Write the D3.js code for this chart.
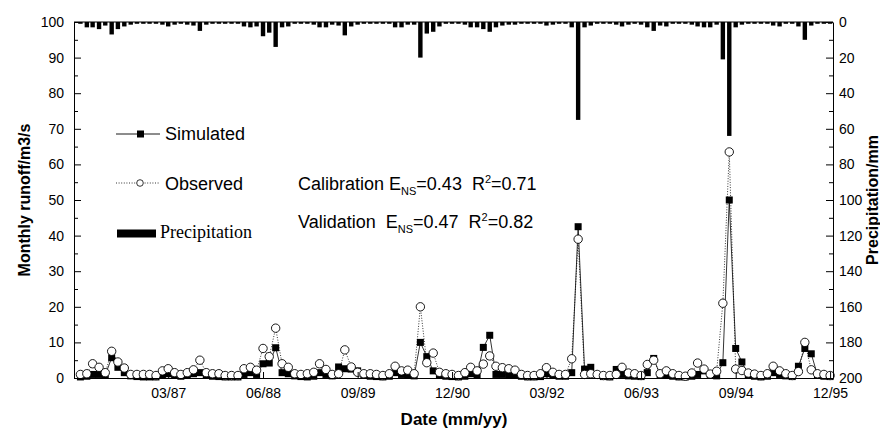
<!DOCTYPE html>
<html>
<head>
<meta charset="utf-8">
<script src="https://cdn.jsdelivr.net/npm/d3@7"></script>
<style>
  body { margin: 0; background: #fff; }
  svg { display: block; }
  text { font-family: Arial, "Liberation Sans", sans-serif; fill: #000; }
</style>
</head>
<body>
<svg id="chart" width="880" height="428"></svg>
<script>
// Monthly series, Jan 1986 – Dec 1995 (one value per month)
const observed = [
  1.0, 1.2, 4.0, 3.0, 1.5, 7.5, 4.5, 2.8, 1.0, 1.0, 1.0, 1.0,   // 1986
  0.7, 2.0, 2.6, 1.5, 1.0, 1.5, 2.3, 5.0, 1.5, 1.2, 1.2, 0.7,   // 1987
  0.7, 0.7, 2.6, 3.0, 2.2, 8.3, 6.0, 14.0, 4.0, 3.0, 1.2, 1.0,  // 1988
  1.2, 1.6, 4.0, 2.4, 1.0, 1.2, 7.9, 3.1, 1.6, 1.2, 1.2, 1.0,   // 1989
  0.7, 1.2, 3.3, 2.0, 2.2, 1.2, 20.0, 4.3, 7.0, 1.6, 1.2, 1.0,  // 1990
  0.7, 1.5, 3.0, 2.0, 3.9, 6.2, 3.3, 2.9, 2.6, 2.2, 1.0, 0.7,   // 1991
  0.7, 1.2, 2.9, 1.6, 1.0, 1.0, 5.4, 39.0, 1.0, 1.2, 1.0, 0.7,  // 1992
  0.7, 1.0, 3.0, 1.4, 1.2, 0.7, 3.8, 5.0, 1.2, 2.0, 1.2, 0.7,   // 1993
  0.5, 1.4, 4.2, 2.5, 1.1, 1.9, 21.0, 63.5, 2.5, 2.1, 1.4, 1.1, // 1994
  0.7, 1.2, 3.3, 2.0, 1.2, 0.7, 1.8, 10.0, 2.3, 1.2, 1.0, 0.7   // 1995
];
const simulated = [
  0.3, 0.5, 1.0, 1.0, 0.8, 5.7, 3.0, 1.5, 0.6, 0.4, 0.3, 0.3,   // 1986
  0.3, 0.8, 1.2, 0.8, 0.5, 0.8, 1.2, 1.5, 0.8, 0.5, 0.4, 0.3,   // 1987
  0.3, 0.3, 1.0, 1.5, 1.0, 4.0, 4.2, 8.5, 1.5, 1.2, 0.6, 0.4,   // 1988
  0.3, 0.5, 1.5, 1.0, 0.6, 3.1, 2.6, 2.5, 2.0, 0.8, 0.5, 0.4,   // 1989
  0.3, 0.5, 1.5, 1.0, 0.8, 0.6, 10.0, 6.0, 2.0, 0.8, 0.5, 0.4,  // 1990
  0.3, 0.5, 1.2, 0.8, 8.6, 12.0, 1.0, 1.0, 0.8, 0.8, 0.5, 0.3,  // 1991
  0.3, 0.4, 1.2, 0.8, 0.5, 0.5, 1.5, 42.5, 2.5, 3.0, 0.8, 0.4,  // 1992
  0.3, 2.4, 1.0, 0.6, 0.5, 0.4, 1.5, 5.5, 0.8, 0.8, 0.5, 0.3,   // 1993
  0.3, 0.5, 1.0, 2.0, 0.8, 0.6, 4.3, 50.0, 8.3, 4.5, 0.8, 0.5,  // 1994
  0.3, 0.5, 1.5, 1.0, 0.6, 0.4, 3.3, 8.3, 6.8, 0.8, 0.5, 0.4    // 1995
];
const precipitation = [
  1.0, 3.0, 3.0, 4.0, 2.0, 7.0, 4.0, 2.5, 1.5, 1.0, 1.0, 1.0,   // 1986
  1.0, 1.5, 2.5, 1.5, 1.0, 1.5, 2.0, 5.0, 1.5, 1.0, 1.0, 1.0,   // 1987
  1.0, 1.0, 2.5, 3.0, 2.5, 8.0, 6.0, 14.0, 3.0, 2.5, 1.0, 1.0,  // 1988
  1.0, 1.5, 3.0, 3.0, 1.5, 2.0, 7.5, 2.5, 1.5, 1.0, 1.0, 1.0,   // 1989
  1.0, 1.0, 3.0, 3.0, 1.5, 1.5, 20.0, 6.5, 5.5, 2.5, 1.0, 1.0,  // 1990
  1.0, 1.5, 3.0, 3.0, 4.0, 5.5, 3.0, 2.0, 1.5, 1.5, 1.0, 1.0,   // 1991
  1.0, 1.0, 2.0, 1.5, 1.0, 1.0, 3.0, 55.0, 3.0, 2.0, 1.0, 1.0,  // 1992
  1.0, 1.5, 2.5, 1.5, 1.0, 1.5, 3.0, 5.0, 2.0, 2.5, 1.0, 1.0,   // 1993
  1.0, 1.5, 2.5, 3.0, 3.0, 1.5, 21.0, 64.0, 3.0, 1.5, 1.0, 1.0, // 1994
  1.0, 1.0, 2.0, 2.5, 1.0, 1.0, 2.5, 10.0, 2.0, 1.0, 1.0, 1.0   // 1995
];
const xTickLabels = ["03/87", "06/88", "09/89", "12/90", "03/92", "06/93", "09/94", "12/95"];
const runoffTicks = [0, 10, 20, 30, 40, 50, 60, 70, 80, 90, 100];
const precipTicks = [0, 20, 40, 60, 80, 100, 120, 140, 160, 180, 200];

const months = d3.timeMonth.range(new Date(1986, 0, 1), new Date(1996, 0, 1));
const parseTick = d3.timeParse("%m/%y");
const tickDates = xTickLabels.map(parseTick);

const svg = d3.select("#chart");
const L = 74, R = 833, T = 22, B = 378;

const x = d3.scaleTime()
  .domain([new Date(1985, 11, 1), new Date(1995, 11, 15)])
  .range([L, R]);
const y = d3.scaleLinear().domain([0, 100]).range([B, T]);
const yP = d3.scaleLinear().domain([0, 200]).range([T, B]);

// precipitation bars hanging from the top edge
svg.append("g").selectAll("rect")
  .data(precipitation)
  .join("rect")
  .attr("x", (d, i) => x(months[i]) - 2.2)
  .attr("width", 4.4)
  .attr("y", yP(0))
  .attr("height", d => yP(d) - yP(0))
  .attr("fill", "#000");

// runoff lines
const line = d3.line().x((d, i) => x(months[i])).y(d => y(d));
svg.append("path").datum(simulated)
  .attr("d", line).attr("fill", "none")
  .attr("stroke", "#000").attr("stroke-width", 0.8);
svg.append("path").datum(observed)
  .attr("d", line).attr("fill", "none")
  .attr("stroke", "#000").attr("stroke-width", 0.8)
  .attr("stroke-dasharray", "1,1.6");

// simulated markers (filled squares)
const sq = 7;
svg.append("g").selectAll("rect")
  .data(simulated)
  .join("rect")
  .attr("x", (d, i) => x(months[i]) - sq / 2)
  .attr("y", d => y(d) - sq / 2)
  .attr("width", sq).attr("height", sq)
  .attr("fill", "#000");

// observed markers (open circles)
svg.append("g").selectAll("circle")
  .data(observed)
  .join("circle")
  .attr("cx", (d, i) => x(months[i]))
  .attr("cy", d => y(d))
  .attr("r", 4.2)
  .attr("fill", "#fff")
  .attr("stroke", "#000")
  .attr("stroke-width", 0.9);

// axes
function styleAxis(g) {
  g.selectAll("path, line").attr("stroke", "#000").attr("stroke-width", 1);
  g.selectAll("text").attr("font-size", 14).attr("fill", "#111")
    .attr("font-family", "Arial, 'Liberation Sans', sans-serif");
}

const yAxis = svg.append("g").attr("transform", `translate(${L},0)`)
  .call(d3.axisLeft(y).tickValues(runoffTicks).tickSize(-7).tickSizeOuter(0).tickPadding(10));
styleAxis(yAxis);
const yMinor = svg.append("g").attr("transform", `translate(${L},0)`)
  .call(d3.axisLeft(y).tickValues(runoffTicks.slice(0, -1).map(v => v + 5)).tickSize(-4).tickFormat(""));
yMinor.select(".domain").remove();
styleAxis(yMinor);

const pAxis = svg.append("g").attr("transform", `translate(${R},0)`)
  .call(d3.axisRight(yP).tickValues(precipTicks).tickSize(-7).tickSizeOuter(0).tickPadding(6));
styleAxis(pAxis);
const pMinor = svg.append("g").attr("transform", `translate(${R},0)`)
  .call(d3.axisRight(yP).tickValues(precipTicks.slice(0, -1).map(v => v + 10)).tickSize(-4).tickFormat(""));
pMinor.select(".domain").remove();
styleAxis(pMinor);

const xAxis = svg.append("g").attr("transform", `translate(0,${B})`)
  .call(d3.axisBottom(x).tickValues(tickDates).tickSize(-6).tickSizeOuter(0).tickPadding(10)
    .tickFormat((d, i) => xTickLabels[i]));
styleAxis(xAxis);

// top frame line
svg.append("line").attr("x1", L).attr("x2", R).attr("y1", T).attr("y2", T)
  .attr("stroke", "#000").attr("stroke-width", 1);

// axis titles
svg.append("text")
  .attr("transform", `translate(30,${(T + B) / 2}) rotate(-90)`)
  .attr("text-anchor", "middle")
  .attr("font-size", 16).attr("font-weight", "bold")
  .text("Monthly runoff/m3/s");
svg.append("text")
  .attr("transform", `translate(878,${(T + B) / 2}) rotate(-90)`)
  .attr("text-anchor", "middle")
  .attr("font-size", 16).attr("font-weight", "bold")
  .text("Precipitation/mm");
svg.append("text")
  .attr("x", 454).attr("y", 425)
  .attr("text-anchor", "middle")
  .attr("font-size", 17).attr("font-weight", "bold")
  .text("Date (mm/yy)");

// legend
const lg = svg.append("g");
lg.append("line").attr("x1", 116).attr("x2", 160).attr("y1", 134).attr("y2", 134)
  .attr("stroke", "#000").attr("stroke-width", 0.9);
lg.append("rect").attr("x", 137).attr("y", 130.5).attr("width", 7).attr("height", 7).attr("fill", "#000");
lg.append("text").attr("x", 165).attr("y", 140).attr("font-size", 18).text("Simulated");

lg.append("line").attr("x1", 116).attr("x2", 160).attr("y1", 183).attr("y2", 183)
  .attr("stroke", "#000").attr("stroke-width", 0.8).attr("stroke-dasharray", "1,1.6");
lg.append("circle").attr("cx", 140).attr("cy", 183).attr("r", 3.3)
  .attr("fill", "#fff").attr("stroke", "#000").attr("stroke-width", 0.8);
lg.append("text").attr("x", 165).attr("y", 190).attr("font-size", 18).text("Observed");

lg.append("rect").attr("x", 117).attr("y", 229.5).attr("width", 39).attr("height", 8).attr("fill", "#000");
lg.append("text").attr("x", 160).attr("y", 238).attr("font-size", 18)
  .style("font-family", "'Liberation Serif', 'Times New Roman', serif")
  .text("Precipitation");

// model performance statistics
const stats = [
  { label: "Calibration E", ens: "0.43", r2: "0.71", y: 190 },
  { label: "Validation  E", ens: "0.47", r2: "0.82", y: 228 }
];
stats.forEach(s => {
  const t = svg.append("text").attr("x", 298).attr("y", s.y).attr("font-size", 18)
    .style("white-space", "pre");
  t.append("tspan").text(s.label);
  t.append("tspan").attr("font-size", 11).attr("dy", 5).text("NS");
  t.append("tspan").attr("dy", -5).text("=" + s.ens + "  R");
  t.append("tspan").attr("font-size", 11).attr("dy", -7).text("2");
  t.append("tspan").attr("dy", 7).text("=" + s.r2);
});
</script>
</body>
</html>
